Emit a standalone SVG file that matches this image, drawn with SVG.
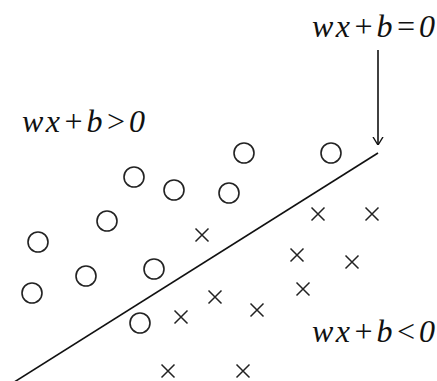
<svg xmlns="http://www.w3.org/2000/svg" width="437" height="381" viewBox="0 0 437 381">
<defs>
<style>
.lbl{font-family:"Liberation Serif","DejaVu Serif",serif;font-style:italic;font-size:32px;fill:#111}
.o{fill:none;stroke:#222;stroke-width:1.6}
.x{stroke:#222;stroke-width:1.5;fill:none}
.ln{stroke:#111;stroke-width:1.6;fill:none}
</style>
<marker id="ah" viewBox="0 0 8 16" refX="8" refY="8" markerWidth="8" markerHeight="16" markerUnits="userSpaceOnUse" orient="auto">
<path d="M0,3 L8,8 L0,13" fill="none" stroke="#111" stroke-width="1.4"/>
</marker>
<symbol id="cross" overflow="visible"><path d="M-6.5,-6.5 L6.5,6.5 M-6.5,6.5 L6.5,-6.5"/></symbol>
</defs>
<rect width="437" height="381" fill="#fff"/>
<g id="connectors">
<line class="ln" x1="0" y1="391" x2="378" y2="153"/>
<line class="ln" x1="378" y1="50" x2="378" y2="145" marker-end="url(#ah)"/>
</g>
<g id="labels">
<text id="eq" class="lbl" x="312" y="37" textLength="123" lengthAdjust="spacing">wx+b=0</text>
<text id="gt" class="lbl" x="22" y="132" textLength="123" lengthAdjust="spacing">wx+b&gt;0</text>
<text id="lt" class="lbl" x="312" y="342" textLength="123" lengthAdjust="spacing">wx+b&lt;0</text>
</g>
<g id="circles" class="o">
<circle cx="331" cy="153" r="10"/>
<circle cx="244" cy="153" r="10"/>
<circle cx="134" cy="177" r="10"/>
<circle cx="174" cy="190" r="10"/>
<circle cx="229" cy="193" r="10"/>
<circle cx="107" cy="221" r="10"/>
<circle cx="38" cy="242" r="10"/>
<circle cx="86" cy="276" r="10"/>
<circle cx="32" cy="293" r="10"/>
<circle cx="154" cy="269" r="10"/>
<circle cx="140" cy="323" r="10"/>
</g>
<g id="crosses" class="x">
<use href="#cross" x="318" y="214"/>
<use href="#cross" x="372" y="214"/>
<use href="#cross" x="202" y="235"/>
<use href="#cross" x="297" y="255"/>
<use href="#cross" x="352" y="262"/>
<use href="#cross" x="303" y="289"/>
<use href="#cross" x="215" y="297"/>
<use href="#cross" x="181" y="317"/>
<use href="#cross" x="257" y="310"/>
<use href="#cross" x="168" y="371"/>
<use href="#cross" x="243" y="371"/>
</g>
</svg>
